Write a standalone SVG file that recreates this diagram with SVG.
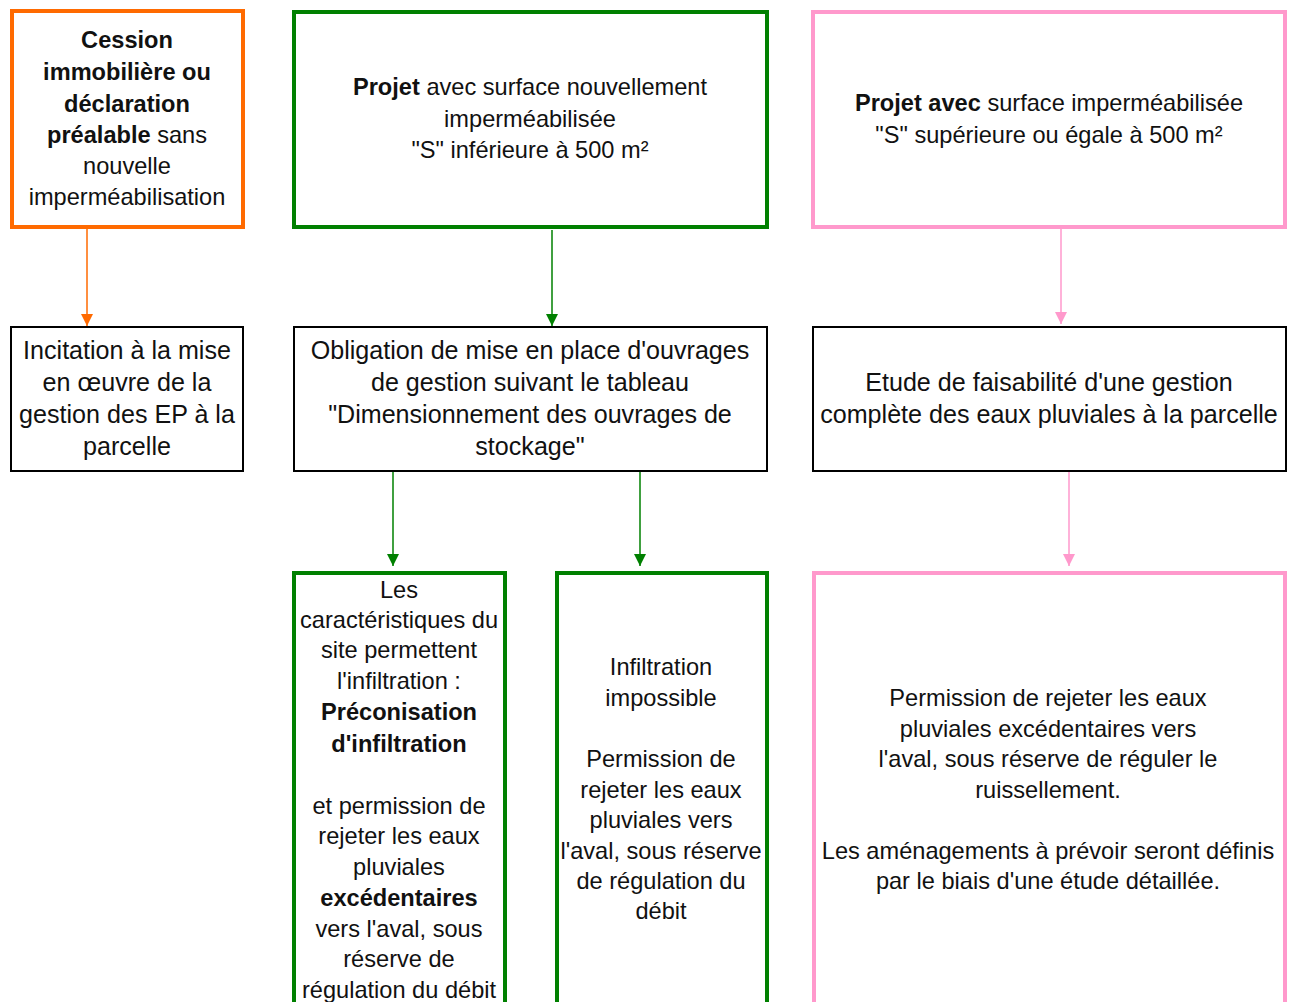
<svg xmlns="http://www.w3.org/2000/svg" width="1289" height="1002" viewBox="0 0 1289 1002">
<style>
text{font-family:"Liberation Sans",Arial,sans-serif;fill:#111;text-anchor:middle;font-size:23.6px}
.m{font-size:25.1px}
.b{font-weight:bold}
.box{fill:#fff}
.or{stroke:#ff6a00;stroke-width:4}
.gr{stroke:#008000;stroke-width:4}
.pk{stroke:#ff99cc;stroke-width:4}
.bk{stroke:#000;stroke-width:2}
.c{fill:none;stroke-width:1.5}
</style>
<defs>
<marker id="ag" markerWidth="12" markerHeight="12" refX="12" refY="6" orient="auto" markerUnits="userSpaceOnUse" viewBox="0 0 12 12"><path d="M0,0 L12,6 L0,12 Z" fill="#008000"/></marker>
<marker id="ap" markerWidth="12" markerHeight="12" refX="12" refY="6" orient="auto" markerUnits="userSpaceOnUse" viewBox="0 0 12 12"><path d="M0,0 L12,6 L0,12 Z" fill="#ff99cc"/></marker>
<marker id="ao" markerWidth="12" markerHeight="12" refX="12" refY="6" orient="auto" markerUnits="userSpaceOnUse" viewBox="0 0 12 12"><path d="M0,0 L12,6 L0,12 Z" fill="#ff6a00"/></marker>
</defs>
<rect width="1289" height="1002" fill="#fff"/>
<g id="connectors">
<line class="c" x1="87" y1="229" x2="87" y2="326" stroke="#ff6a00" marker-end="url(#ao)"/>
<line class="c" x1="552" y1="230" x2="552" y2="326" stroke="#008000" marker-end="url(#ag)"/>
<line class="c" x1="1061" y1="229" x2="1061" y2="324" stroke="#ff99cc" marker-end="url(#ap)"/>
<line class="c" x1="393" y1="471" x2="393" y2="566" stroke="#008000" marker-end="url(#ag)"/>
<line class="c" x1="640" y1="471" x2="640" y2="566" stroke="#008000" marker-end="url(#ag)"/>
<line class="c" x1="1069" y1="471" x2="1069" y2="566" stroke="#ff99cc" marker-end="url(#ap)"/>
</g>
<g id="n1">
<rect class="box or" x="12" y="11" width="231" height="216"/>
<text x="127" y="48" class="b">Cession</text>
<text x="127" y="80" class="b">immobilière ou</text>
<text x="127" y="112" class="b">déclaration</text>
<text x="127" y="143"><tspan class="b">préalable</tspan> sans</text>
<text x="127" y="174">nouvelle</text>
<text x="127" y="205">imperméabilisation</text>
</g>
<g id="n2">
<rect class="box gr" x="294" y="12" width="473" height="215"/>
<text x="530" y="95"><tspan class="b">Projet</tspan> avec surface nouvellement</text>
<text x="530" y="127">imperméabilisée</text>
<text x="530" y="158">"S" inférieure à 500 m²</text>
</g>
<g id="n3">
<rect class="box pk" x="813" y="12" width="472" height="215"/>
<text x="1049" y="111"><tspan class="b">Projet avec</tspan> surface imperméabilisée</text>
<text x="1049" y="143">"S" supérieure ou égale à 500 m²</text>
</g>
<g id="n4">
<rect class="box bk" x="11" y="327" width="232" height="144"/>
<text class="m" x="127" y="359">Incitation à la mise</text>
<text class="m" x="127" y="391">en œuvre de la</text>
<text class="m" x="127" y="423">gestion des EP à la</text>
<text class="m" x="127" y="455">parcelle</text>
</g>
<g id="n5">
<rect class="box bk" x="294" y="327" width="473" height="144"/>
<text class="m" x="530" y="359">Obligation de mise en place d'ouvrages</text>
<text class="m" x="530" y="391">de gestion suivant le tableau</text>
<text class="m" x="530" y="423">"Dimensionnement des ouvrages de</text>
<text class="m" x="530" y="455">stockage"</text>
</g>
<g id="n6">
<rect class="box bk" x="813" y="327" width="473" height="144"/>
<text class="m" x="1049" y="391">Etude de faisabilité d'une gestion</text>
<text class="m" x="1049" y="423">complète des eaux pluviales à la parcelle</text>
</g>
<g id="n7">
<rect class="box gr" x="294" y="573" width="211" height="440"/>
<text x="399" y="598">Les</text>
<text x="399" y="628">caractéristiques du</text>
<text x="399" y="658">site permettent</text>
<text x="399" y="689">l'infiltration :</text>
<text x="399" y="720" class="b">Préconisation</text>
<text x="399" y="752" class="b">d'infiltration</text>
<text x="399" y="814">et permission de</text>
<text x="399" y="844">rejeter les eaux</text>
<text x="399" y="875">pluviales</text>
<text x="399" y="906" class="b">excédentaires</text>
<text x="399" y="937">vers l'aval, sous</text>
<text x="399" y="967">réserve de</text>
<text x="399" y="998">régulation du débit</text>
</g>
<g id="n8">
<rect class="box gr" x="557" y="573" width="210" height="440"/>
<text x="661" y="675">Infiltration</text>
<text x="661" y="706">impossible</text>
<text x="661" y="767">Permission de</text>
<text x="661" y="798">rejeter les eaux</text>
<text x="661" y="828">pluviales vers</text>
<text x="661" y="859">l'aval, sous réserve</text>
<text x="661" y="889">de régulation du</text>
<text x="661" y="919">débit</text>
</g>
<g id="n9">
<rect class="box pk" x="814" y="573" width="471" height="440"/>
<text x="1048" y="706">Permission de rejeter les eaux</text>
<text x="1048" y="737">pluviales excédentaires vers</text>
<text x="1048" y="767">l'aval, sous réserve de réguler le</text>
<text x="1048" y="798">ruissellement.</text>
<text x="1048" y="859">Les aménagements à prévoir seront définis</text>
<text x="1048" y="889">par le biais d'une étude détaillée.</text>
</g>
</svg>
